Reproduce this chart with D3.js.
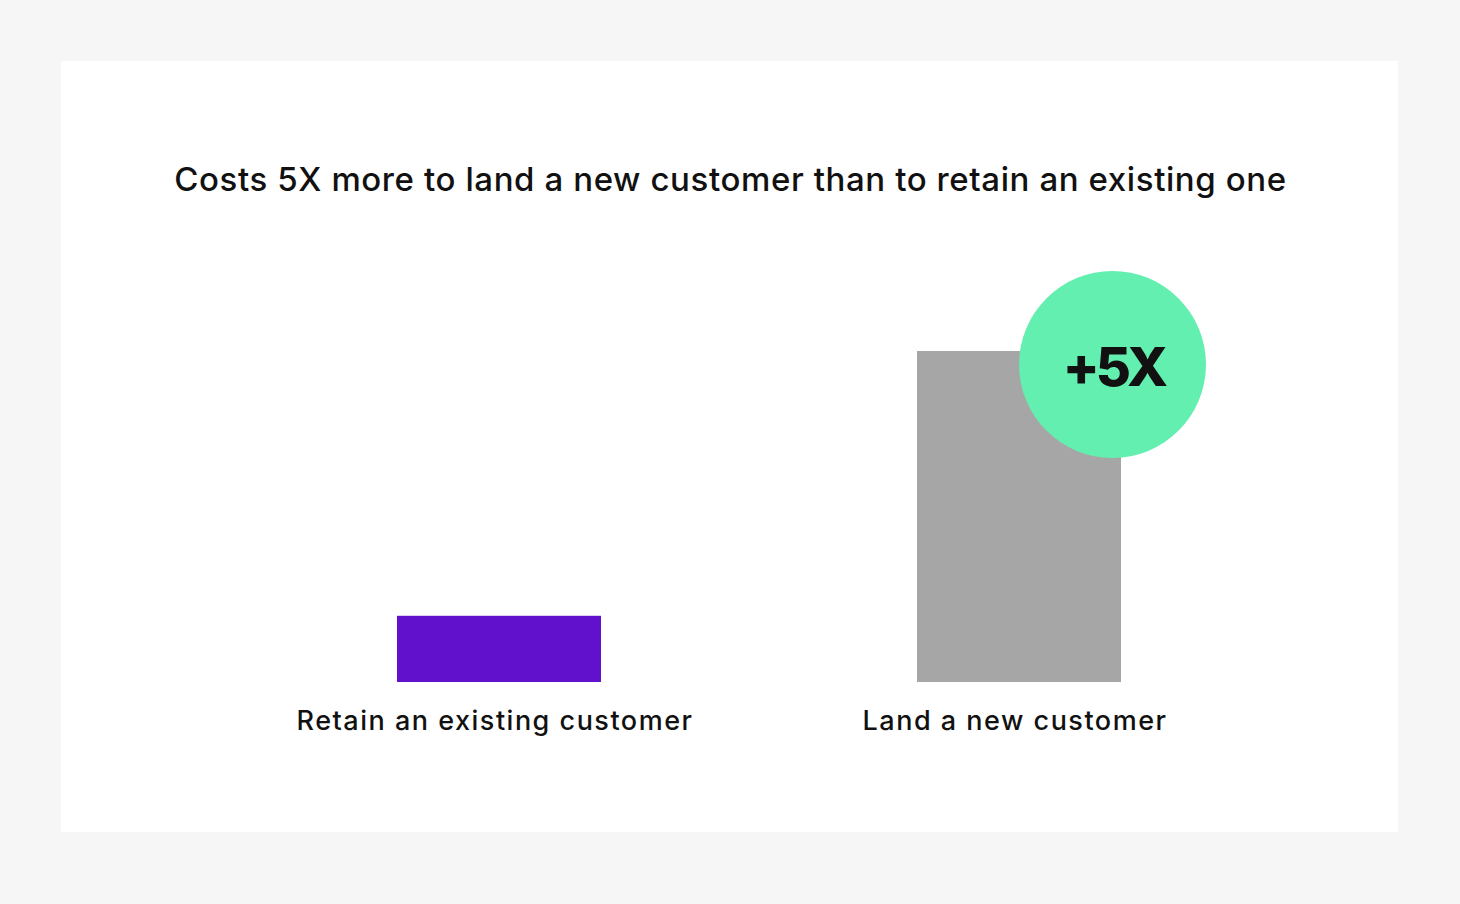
<!DOCTYPE html>
<html>
<head>
<meta charset="utf-8">
<script src="https://cdn.jsdelivr.net/npm/d3@7"></script>
<style>
  html, body { margin: 0; padding: 0; background: #f6f6f6; }
  svg { display: block; }
</style>
</head>
<body>
<svg id="chart" width="1460" height="904"></svg>
<script>
const title = "Costs 5X more to land a new customer than to retain an existing one";
const categories = ["Retain an existing customer", "Land a new customer"];
const values = [1, 5];
const colors = ["#6111cb", "#a6a6a6"];
const badgeText = "+5X";

const svg = d3.select("#chart");
const W = 1460, H = 904;

svg.append("rect").attr("x", 0).attr("y", 0).attr("width", W).attr("height", H).attr("fill", "#f6f6f6");
svg.append("rect").attr("x", 61).attr("y", 61).attr("width", 1337).attr("height", 771).attr("fill", "#ffffff");

const font = "Inter, 'Liberation Sans', Arial, sans-serif";

svg.append("text")
  .attr("x", 730.5).attr("y", 191)
  .attr("text-anchor", "middle")
  .attr("font-family", font)
  .attr("font-size", 33)
  .attr("font-weight", 500)
  .attr("letter-spacing", "0.6px")
  .attr("fill", "#111")
  .text(title);

const x = d3.scaleBand().domain(categories).range([239, 1279]).paddingInner(0.6077).paddingOuter(0.30385);
const y = d3.scaleLinear().domain([0, 5]).range([682, 351]);

svg.selectAll("rect.bar").data(categories).enter().append("rect")
  .attr("class", "bar")
  .attr("x", d => x(d))
  .attr("y", (d, i) => y(values[i]))
  .attr("width", x.bandwidth())
  .attr("height", (d, i) => y(0) - y(values[i]))
  .attr("fill", (d, i) => colors[i]);

svg.selectAll("text.lab").data(categories).enter().append("text")
  .attr("class", "lab")
  .attr("x", d => x(d) + x.bandwidth() / 2 - 4)
  .attr("y", 729.5)
  .attr("text-anchor", "middle")
  .attr("font-family", font)
  .attr("font-size", 27)
  .attr("font-weight", 500)
  .attr("letter-spacing", "1.5px")
  .attr("fill", "#111")
  .text(d => d);

// badge on the second bar
const last = categories[categories.length - 1];
const cx = x(last) + x.bandwidth() - 8.5;
const cy = y(values[values.length - 1]) + 13.5;
svg.append("circle").attr("cx", cx).attr("cy", cy).attr("r", 93.5).attr("fill", "#63efaf");
svg.append("text")
  .attr("x", cx + 1).attr("y", cy + 21)
  .attr("text-anchor", "middle")
  .attr("font-family", font)
  .attr("font-size", 54)
  .attr("font-weight", 800)
  .attr("letter-spacing", "-4px")
  .attr("fill", "#111")
  .text(badgeText);
</script>
</body>
</html>
